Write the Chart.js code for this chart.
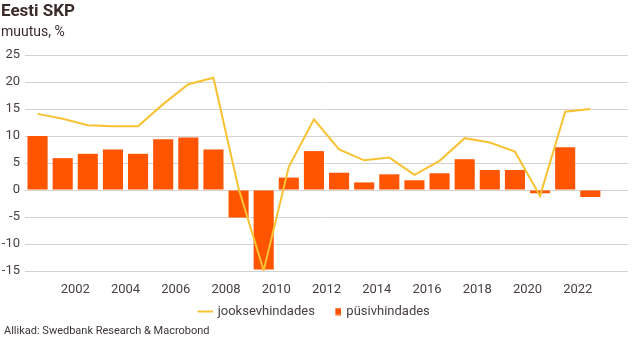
<!DOCTYPE html>
<html>
<head>
<meta charset="utf-8">
<script src="https://cdn.jsdelivr.net/npm/chart.js@4.4.0/dist/chart.umd.min.js"></script>
<style>
  body { margin: 0; background: #fff; font-family: Roboto, sans-serif; }
  #wrap { position: relative; width: 642px; height: 340px; }
  #title { position: absolute; left: 1px; top: 0px; font-size: 17px; font-weight: bold; color: #3c2b2b; }
  #sub { position: absolute; left: 1px; top: 23px; font-size: 14px; color: #3c2b2b; }
  #src { position: absolute; left: 4px; top: 324px; font-size: 11px; color: #3c3535; }
  canvas { position: absolute; left: 0; top: 0; }
</style>
</head>
<body>
<div id="wrap">
  <canvas id="gdpChart" width="642" height="340"></canvas>
  <div id="title">Eesti SKP</div>
  <div id="sub">muutus, %</div>
  <div id="src">Allikad: Swedbank Research &amp; Macrobond</div>
</div>
<script>
const years = ['2000','2001','2002','2003','2004','2005','2006','2007','2008','2009','2010','2011',
               '2012','2013','2014','2015','2016','2017','2018','2019','2020','2021','2022','2023'];
const tickYears = ['2002','2004','2006','2008','2010','2012','2014','2016','2018','2020','2022'];
// nominal growth (jooksevhindades)
const nominal = [14.1, 13.2, 12.0, 11.8, 11.8, 15.9, 19.6, 20.8, 0.3, -14.9, 4.3, 13.1,
                 7.5, 5.5, 6.0, 2.8, 5.4, 9.6, 8.8, 7.1, -1.1, 14.5, 15.0, null];
// real growth (püsivhindades)
const real = [10.0, 5.9, 6.7, 7.5, 6.7, 9.4, 9.7, 7.5, -5.1, -14.7, 2.3, 7.2,
              3.2, 1.4, 2.9, 1.8, 3.1, 5.7, 3.7, 3.7, -0.6, 7.9, -1.3, null];

const lineColor = '#f8c232';
const barColor = '#ff5400';
const textColor = '#4a4040';

// legend markers: a short line and a small square sitting at the right of its box
function marker(w, h, x0, mw, mh, color) {
    const c = document.createElement('canvas');
    c.width = w; c.height = h;
    const g = c.getContext('2d');
    g.fillStyle = color;
    g.fillRect(x0, (h - mh) / 2, mw, mh);
    return c;
}
const lineMark = marker(16, 8, 1, 15, 2, lineColor);
const barMark = marker(16, 8, 10, 7, 7, barColor);

new Chart(document.getElementById('gdpChart'), {
    data: {
        labels: years,
        datasets: [
            { type: 'line', label: 'jooksevhindades', data: nominal, borderColor: lineColor,
              borderWidth: 2, pointRadius: 0, tension: 0, order: 0 },
            { type: 'bar', label: 'püsivhindades', data: real, backgroundColor: barColor,
              barPercentage: 0.8, categoryPercentage: 1, order: 1 }
        ]
    },
    options: {
        responsive: false,
        animation: false,
        layout: { padding: { top: 55, right: 14, left: 0, bottom: 12 } },
        plugins: {
            tooltip: { enabled: false },
            legend: {
                position: 'bottom',
                labels: {
                    usePointStyle: true,
                    boxWidth: 16,
                    boxHeight: 8,
                    padding: 12,
                    color: textColor,
                    font: { family: 'Roboto', size: 13 },
                    generateLabels: chart => chart.data.datasets.map((ds, i) => ({
                        text: ds.label,
                        pointStyle: i === 0 ? lineMark : barMark,
                        fontColor: textColor,
                        lineWidth: 0,
                        datasetIndex: i
                    }))
                }
            }
        },
        scales: {
            x: {
                offset: true,
                grid: { display: false },
                border: { display: false },
                afterFit: s => { s.height = 22; },
                ticks: {
                    autoSkip: false,
                    maxRotation: 0,
                    padding: 3,
                    labelOffset: -12.5,
                    color: textColor,
                    font: { family: 'Roboto', size: 13 },
                    callback: function (v) {
                        const y = this.getLabelForValue(v);
                        return tickYears.includes(y) ? y : '';
                    }
                }
            },
            y: {
                min: -15,
                max: 25,
                border: { display: false },
                grid: { color: '#d4d2d2', drawTicks: false },
                afterFit: s => { s.width = 25; },
                ticks: {
                    stepSize: 5,
                    padding: 5,
                    color: textColor,
                    font: { family: 'Roboto', size: 13 }
                }
            }
        }
    }
});
</script>
</body>
</html>
